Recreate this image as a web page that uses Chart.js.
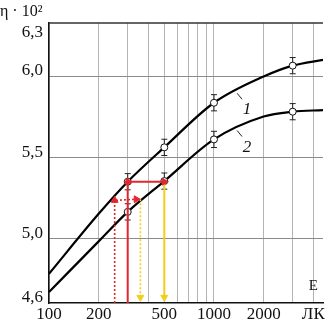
<!DOCTYPE html>
<html>
<head>
<meta charset="utf-8">
<script src="https://cdn.jsdelivr.net/npm/chart.js@4/dist/chart.umd.min.js"></script>
<style>
  html, body { margin: 0; padding: 0; background: #fff; }
</style>
</head>
<body>
<canvas id="chart" width="328" height="324"></canvas>
<script>
// illuminance E, lx (log axis) and efficiency eta * 10^2
const curveX = [100, 200, 300, 500, 1000, 2000, 3000, 4580]
const curve1 = [4.78, 5.15, 5.348, 5.56, 5.835, 5.997, 6.064, 6.10]
const curve2 = [4.668, 4.98, 5.162, 5.352, 5.609, 5.75, 5.78, 5.79]

const pointX = [300, 500, 1000, 3000]
const points1 = [5.348, 5.56, 5.835, 6.064]
const points2 = [5.162, 5.352, 5.609, 5.78]
const errBar = 0.05

// arrows: solid path 300 lx -> curve 1 -> curve 2 -> 500 lx, dotted the same from ~250 lx
const redSolidX = [300, 300, 500]
const redSolidY = [4.6, 5.348, 5.348]
const yellowSolidX = [500, 500]
const yellowSolidY = [5.35, 4.635]
const redDotX = [250, 250, 338]
const redDotY = [4.6, 5.233, 5.24]
const yellowDotX = [358, 358]
const yellowDotY = [5.24, 4.635]

const xGrid = [100, 200, 300, 400, 500, 600, 700, 800, 900, 1000, 2000, 3000, 4000]
const xLabels = { 100: '100', 200: '200', 500: '500', 1000: '1000', 2000: '2000', 4000: 'ЛК' }
const yTicks = [4.6, 5.0, 5.5, 6.0, 6.3]
const yGrid = [5.0, 5.5, 6.0]

const labelAnchorX = 1380
const labelAnchorY = [5.90, 5.67]
const curveNames = ['1', '2']

const RED = '#e3262d'
const YELLOW = '#f2cf1d'
const serif = '"Liberation Serif", "DejaVu Serif", serif'

function xy(xs, ys) {
    return xs.map((x, i) => ({ x: x, y: ys[i] }))
}

function errData(xs, ys) {
    let out = []
    for (let i = 0; i < xs.length; i++) {
        out.push({ x: xs[i], y: ys[i] - errBar }, { x: xs[i], y: ys[i] + errBar }, { x: xs[i], y: null })
    }
    return out
}

function arrow(xs, ys, color, dashed, rot) {
    let n = xs.length
    return {
        data: xy(xs, ys),
        borderColor: color,
        backgroundColor: color,
        borderWidth: dashed ? 1.6 : 2,
        borderDash: dashed ? [2, 2] : [],
        pointStyle: 'triangle',
        pointRadius: xs.map((v, i) => i == 0 ? 0 : 4),
        pointRotation: rot,
        pointBorderWidth: 1,
        order: 0
    }
}

const decor = {
    id: 'decor',
    afterDraw(chart) {
        const ctx = chart.ctx
        const a = chart.chartArea
        const x = chart.scales.x
        const y = chart.scales.y
        ctx.save()
        // top frame
        ctx.strokeStyle = '#333'
        ctx.lineWidth = 1.5
        ctx.beginPath()
        ctx.moveTo(a.left, a.top)
        ctx.lineTo(a.right, a.top)
        ctx.stroke()

        ctx.fillStyle = '#111'
        ctx.font = '16px ' + serif
        ctx.textBaseline = 'alphabetic'
        ctx.textAlign = 'left'
        ctx.fillText('η · 10²', 0, 16)

        ctx.textAlign = 'center'
        ctx.font = '15px ' + serif
        ctx.fillText('E', x.getPixelForValue(4000), a.bottom - 13)

        // curve labels with leader strokes
        ctx.lineWidth = 1
        ctx.strokeStyle = '#222'
        ctx.font = 'italic 17px ' + serif
        for (let i = 0; i < curveNames.length; i++) {
            let px = x.getPixelForValue(labelAnchorX)
            let py = y.getPixelForValue(labelAnchorY[i])
            ctx.beginPath()
            ctx.moveTo(px, py + 1)
            ctx.lineTo(px + 5, py + 7)
            ctx.stroke()
            ctx.fillText(curveNames[i], px + 10, py + 22)
        }
        ctx.restore()
    }
}

new Chart(document.getElementById('chart'), {
    type: 'line',
    data: {
        datasets: [
            arrow(redSolidX, redSolidY, RED, false, [0, 0, 90]),
            arrow(yellowSolidX, yellowSolidY, YELLOW, false, [0, 180]),
            arrow(redDotX, redDotY, RED, true, [0, 0, 90]),
            arrow(yellowDotX, yellowDotY, YELLOW, true, [0, 180]),
            {
                data: xy(pointX, points1).concat(xy(pointX, points2)),
                showLine: false,
                pointStyle: 'circle',
                pointRadius: 3.5,
                pointBorderWidth: 1,
                borderColor: '#111',
                backgroundColor: '#fff',
                order: 1
            },
            {
                data: errData(pointX, points1).concat(errData(pointX, points2)),
                borderColor: '#222',
                borderWidth: 1,
                pointStyle: 'line',
                pointRadius: 3,
                pointBorderWidth: 1,
                spanGaps: false,
                order: 2
            },
            {
                data: xy(curveX, curve1),
                borderColor: '#000',
                borderWidth: 2.2,
                pointRadius: 0,
                cubicInterpolationMode: 'monotone',
                order: 3
            },
            {
                data: xy(curveX, curve2),
                borderColor: '#000',
                borderWidth: 2.2,
                pointRadius: 0,
                cubicInterpolationMode: 'monotone',
                order: 3
            }
        ]
    },
    options: {
        responsive: false,
        animation: false,
        devicePixelRatio: 1,
        layout: { padding: { top: 23, left: 0, right: 0, bottom: 0 } },
        plugins: { legend: { display: false }, tooltip: { enabled: false } },
        scales: {
            x: {
                type: 'logarithmic',
                min: 100,
                max: 4580,
                afterBuildTicks: (s) => { s.ticks = xGrid.map(v => ({ value: v })) },
                afterFit: (s) => { s.height = 21 },
                grid: { color: '#b4b4b4', lineWidth: 1, drawTicks: false },
                border: { color: '#111', width: 1.5 },
                ticks: {
                    autoSkip: false,
                    maxRotation: 0,
                    padding: 1,
                    color: '#111',
                    font: { family: serif, size: 17 },
                    callback: (v) => xLabels[v] || ''
                }
            },
            y: {
                min: 4.6,
                max: 6.327,
                // the reference prints "6,3" a little below its true height
                afterBuildTicks: (s) => { s.ticks = yTicks.map(v => ({ value: v == 6.3 ? 6.235 : v })) },
                afterFit: (s) => { s.width = 49 },
                grid: {
                    drawTicks: false,
                    lineWidth: 1,
                    color: (c) => yGrid.includes(c.tick && c.tick.value) ? '#8a8a8a' : 'rgba(0,0,0,0)'
                },
                border: { color: '#111', width: 1.5 },
                ticks: {
                    padding: 6,
                    labelOffset: -5,
                    color: '#111',
                    font: { family: serif, size: 17 },
                    callback: (v) => (v == 6.235 ? 6.3 : v).toFixed(1).replace('.', ',')
                }
            }
        }
    },
    plugins: [decor]
})
</script>
</body>
</html>
